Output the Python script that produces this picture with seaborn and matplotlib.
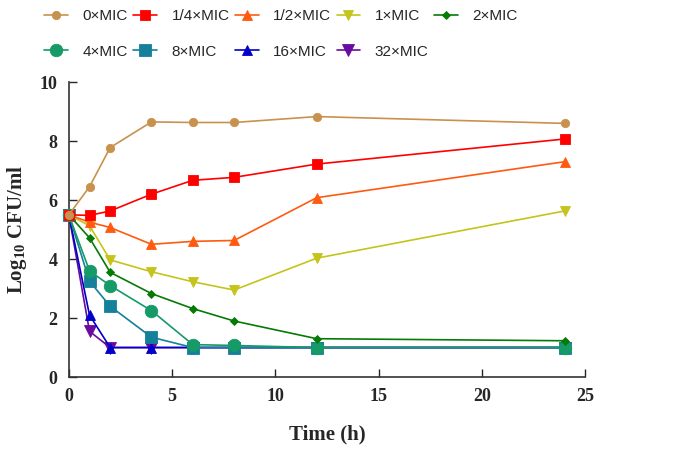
""" Time-kill curves at different MIC multiples.
"""
import numpy as np
import pandas as pd
import matplotlib
matplotlib.use('Agg')
import matplotlib.pyplot as plt
import seaborn as sns

# Data
time_h = [0, 1, 2, 4, 6, 8, 12, 24]
labels = ['0×MIC', '1/4×MIC', '1/2×MIC', '1×MIC', '2×MIC',
          '4×MIC', '8×MIC', '16×MIC', '32×MIC']
mic_0 = [5.5, 6.45, 7.78, 8.65, 8.63, 8.63, 8.83, 8.6]
mic_1_4 = [5.5, 5.48, 5.63, 6.2, 6.67, 6.77, 7.22, 8.07]
mic_1_2 = [5.5, 5.25, 5.07, 4.5, 4.6, 4.63, 6.08, 7.3]
mic_1 = [5.5, 5.13, 3.97, 3.57, 3.23, 2.95, 4.03, 5.63]
mic_2 = [5.5, 4.72, 3.55, 2.83, 2.32, 1.9, 1.3, 1.23]
mic_4 = [5.5, 3.6, 3.1, 2.25, 1.1, 1.07, 1.0, 1.0]
mic_8 = [5.5, 3.25, 2.4, 1.35, 1.0, 1.0, 1.0, 1.0]
mic_16 = [5.5, 2.1, 1.0, 1.0, 1.0, 1.0, 1.0, 1.0]
mic_32 = [5.5, 1.55, 1.0, 1.0, 1.0, 1.0, 1.0, 1.0]
series = [mic_0, mic_1_4, mic_1_2, mic_1, mic_2, mic_4, mic_8, mic_16, mic_32]

colors = ['#C8924E', '#FF0000', '#FF5A0F', '#C4C41C', '#057A05',
          '#159A68', '#14809A', '#0000C8', '#6A0A9E']
markers = ['o', 's', '^', 'v', 'D', 'o', 's', '^', 'v']
msizes = [6, 7, 6.5, 7, 4.5, 9, 9, 7, 8]

df = pd.DataFrame({
    'Time': np.tile(time_h, len(labels)),
    'CFU': np.concatenate(series),
    'group': np.repeat(labels, len(time_h)),
})

sns.set_style('ticks')
plt.rcParams['mathtext.fontset'] = 'custom'
plt.rcParams['mathtext.rm'] = 'Liberation Serif:bold'
plt.rcParams['mathtext.bf'] = 'Liberation Serif:bold'

fig = plt.figure(figsize=(6.75, 4.51), dpi=100)
ax = fig.add_axes([0.102, 0.164, 0.765, 0.654])

# draw in reverse so the low-MIC curves sit on top
for i in reversed(range(len(labels))):
    sub = df[df['group'] == labels[i]]
    sns.lineplot(data=sub, x='Time', y='CFU', ax=ax, color=colors[i],
                 marker=markers[i], markersize=msizes[i], linewidth=1.2,
                 markeredgewidth=0.6, markeredgecolor=colors[i],
                 label=labels[i], clip_on=False, zorder=3 + len(labels) - i)

h, l = ax.get_legend_handles_labels()
lookup = dict(zip(l, h))
ax.get_legend().remove()
order = [0, 5, 1, 6, 2, 7, 3, 8, 4]
fig.legend([lookup[labels[k]] for k in order], [labels[k] for k in order],
           ncol=5, loc='upper left', bbox_to_anchor=(0.052, 1.0), frameon=False,
           prop={'family': 'Liberation Sans', 'size': 11},
           handlelength=1.55, columnspacing=0.35, handletextpad=0.95,
           labelspacing=1.4, borderaxespad=0.2)

ax.set_xlim(0, 25)
ax.set_ylim(0, 10)
ax.set_xticks(range(0, 26, 5))
ax.set_yticks(range(0, 11, 2))
ax.tick_params(direction='in', length=6, width=1, labelsize=13, pad=8)
for t in ax.get_xticklabels() + ax.get_yticklabels():
    t.set_family('Liberation Serif')
    t.set_fontweight('bold')
sns.despine(ax=ax)
for s in ['left', 'bottom']:
    ax.spines[s].set_color('#333333')
    ax.spines[s].set_linewidth(1.2)

ax.set_xlabel('Time (h)', family='Liberation Serif', fontweight='bold',
              fontsize=15, labelpad=14)
ax.set_ylabel(r'Log$_{\mathbf{10}}$ CFU/ml', family='Liberation Serif',
              fontweight='bold', fontsize=15, labelpad=8)

fig.savefig('out.png', dpi=100)
